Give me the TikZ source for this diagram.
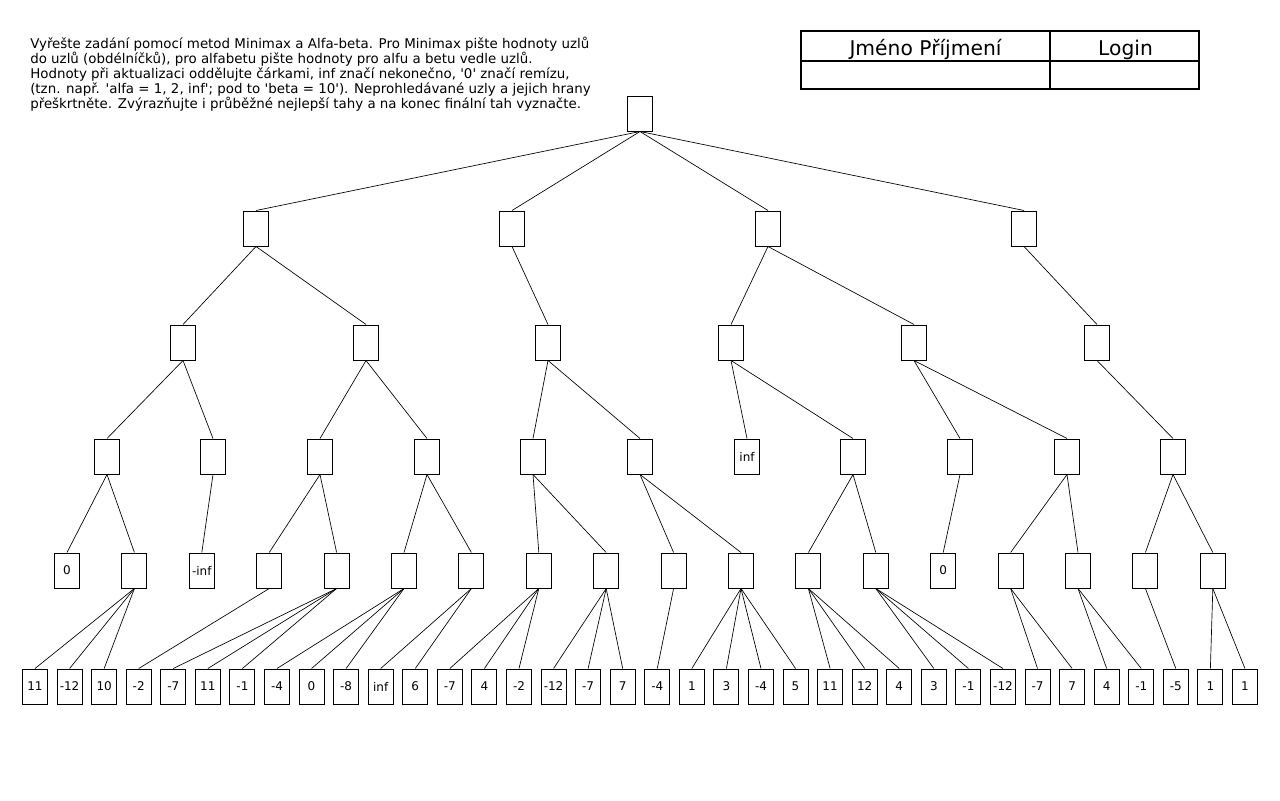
\documentclass[tikz,border=0pt]{standalone}
\usepackage{fontspec}
\setmainfont{DejaVu Sans}
\newcommand{\apo}{\textquotesingle}

\tikzset{
	uzel/.style={draw, line width=0.75pt, minimum width=18.75pt, minimum height=26.25pt, inner sep=0pt, font=\fontsize{9}{10}\selectfont},
	hrana/.style={line width=0.5pt}
}

\begin{document}
\begin{tikzpicture}[x=0.75pt,y=-0.75pt]
		\useasboundingbox (0,0) rectangle (1280,800);
		\fill[white] (0,0) rectangle (1280,800);
		% zadani
		\node[anchor=north west, align=left, inner sep=0pt, font=\fontsize{10.05}{11.25}\selectfont] (zadani) at (30,37) {Vyřešte zadání pomocí metod Minimax a Alfa-beta. Pro Minimax pište hodnoty uzlů\\do uzlů (obdélníčků), pro alfabetu pište hodnoty pro alfu a betu vedle uzlů.\\Hodnoty při aktualizaci oddělujte čárkami, inf značí nekonečno, {\apo}0{\apo} značí remízu,\\(tzn. např. {\apo}alfa = 1, 2, inf{\apo}; pod to {\apo}beta = 10{\apo}). Neprohledávané uzly a jejich hrany\\přeškrtněte. Zvýrazňujte i průběžné nejlepší tahy a na konec finální tah vyznačte.};
		% tabulka
		\draw[line width=1.5pt] (801,31) rectangle (1199,89);
		\draw[line width=1.2pt] (1050,31) -- (1050,89);
		\draw[line width=1.2pt] (801,61) -- (1199,61);
		\node[anchor=base, inner sep=0pt, font=\fontsize{15.2}{17}\selectfont] (jmeno) at (925.5,55) {Jméno Příjmení};
		\node[anchor=base, inner sep=0pt, font=\fontsize{15.2}{17}\selectfont] (login) at (1125.5,55) {Login};
		% strom
		\node[uzel] (r) at (640,113.5) {};
		\node[uzel] (a1) at (256,228.5) {};
		\node[uzel] (a2) at (512,228.5) {};
		\node[uzel] (a3) at (768,228.5) {};
		\node[uzel] (a4) at (1024,228.5) {};
		\node[uzel] (b1) at (183,342.5) {};
		\node[uzel] (b2) at (366,342.5) {};
		\node[uzel] (b3) at (548,342.5) {};
		\node[uzel] (b4) at (731,342.5) {};
		\node[uzel] (b5) at (914,342.5) {};
		\node[uzel] (b6) at (1097,342.5) {};
		\node[uzel] (c1) at (107,456.5) {};
		\node[uzel] (c2) at (213,456.5) {};
		\node[uzel] (c3) at (320,456.5) {};
		\node[uzel] (c4) at (427,456.5) {};
		\node[uzel] (c5) at (533,456.5) {};
		\node[uzel] (c6) at (640,456.5) {};
		\node[uzel] (c7) at (747,456.5) {inf};
		\node[uzel] (c8) at (853,456.5) {};
		\node[uzel] (c9) at (960,456.5) {};
		\node[uzel] (c10) at (1067,456.5) {};
		\node[uzel] (c11) at (1173,456.5) {};
		\foreach \h [count=\i] in {0,{},-inf,{},{},{},{},{},{},{},{},{},{},0,{},{},{},{}}
			\node[uzel] (d\i) at ({67+67.4*(\i-1)},570.5) {\h};
		\foreach \h [count=\i from 0] in {11,-12,10,-2,-7,11,-1,-4,0,-8,inf,6,-7,4,-2,-12,-7,7,-4,1,3,-4,5,11,12,4,3,-1,-12,-7,7,4,-1,-5,1,1}
			\node[uzel] (l\i) at ({35+34.57*\i},686.5) {\h};
		% hrany
		\foreach \p/\c in {r/a1,r/a2,r/a3,r/a4,
			a1/b1,a1/b2,a2/b3,a3/b4,a3/b5,a4/b6,
			b1/c1,b1/c2,b2/c3,b2/c4,b3/c5,b3/c6,b4/c7,b4/c8,b5/c9,b5/c10,b6/c11,
			c1/d1,c1/d2,c2/d3,c3/d4,c3/d5,c4/d6,c4/d7,c5/d8,c5/d9,c6/d10,c6/d11,
			c8/d12,c8/d13,c9/d14,c10/d15,c10/d16,c11/d17,c11/d18,
			d2/l0,d2/l1,d2/l2,d4/l3,d5/l4,d5/l5,d5/l6,d6/l7,d6/l8,d6/l9,
			d7/l10,d7/l11,d8/l12,d8/l13,d8/l14,d9/l15,d9/l16,d9/l17,d10/l18,
			d11/l19,d11/l20,d11/l21,d11/l22,d12/l23,d12/l24,d12/l25,
			d13/l26,d13/l27,d13/l28,d15/l29,d15/l30,d16/l31,d16/l32,
			d17/l33,d18/l34,d18/l35}
			\draw[hrana] (\p.south) -- (\c.north);
	\end{tikzpicture}
\end{document}
